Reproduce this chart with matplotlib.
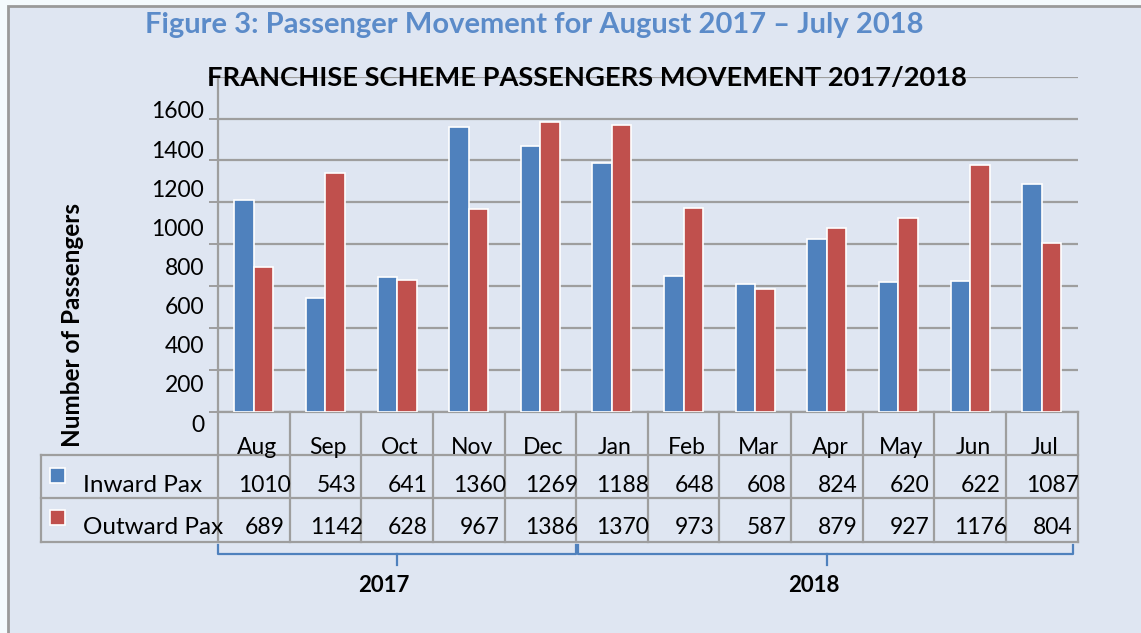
import matplotlib
matplotlib.use("Agg")
import matplotlib.pyplot as plt
from matplotlib.patches import Rectangle
from matplotlib.transforms import blended_transform_factory, offset_copy

plt.rcParams['font.family'] = ['Lato', 'DejaVu Sans']

# ---------------- data ----------------
months = ['Aug', 'Sep', 'Oct', 'Nov', 'Dec', 'Jan', 'Feb', 'Mar', 'Apr', 'May', 'Jun', 'Jul']
inward = [1010, 543, 641, 1360, 1269, 1188, 648, 608, 824, 620, 622, 1087]
outward = [689, 1142, 628, 967, 1386, 1370, 973, 587, 879, 927, 1176, 804]
series_names = ['Inward Pax', 'Outward Pax']
years = ['2017', '2018']
year_first = [0, 5]
year_last = [4, 11]
y_ticks = [0, 200, 400, 600, 800, 1000, 1200, 1400, 1600]

fig_title = 'Figure 3: Passenger Movement for August 2017 \u2013 July 2018'
chart_title = 'FRANCHISE SCHEME PASSENGERS MOVEMENT 2017/2018'
y_title = 'Number of Passengers'

# ---------------- styling ----------------
BLUE = '#4F81BD'
RED = '#C0504D'
BG = '#DFE6F2'
GRID = '#9E9E9E'
TITLE_BLUE = '#5B8BC9'
FS = 16.5

W, H = 1141, 633
fig = plt.figure(figsize=(W / 100, H / 100), dpi=100)
fig.patch.set_facecolor('#F4FAFD')

def fx(px):
    return px / W

def fy(py):
    return 1 - py / H

# page frame
fig.add_artist(Rectangle((fx(8), fy(700)), fx(1200), fy(6) - fy(700),
                         transform=fig.transFigure, facecolor=BG,
                         edgecolor='#9a9a9a', linewidth=2, zorder=0))

# main plot area
X0, X1 = 218, 1077.5
Y0, Y1 = 411.7, 76.7
ax = fig.add_axes([fx(X0), fy(Y0), fx(X1) - fx(X0), fy(Y1) - fy(Y0)])
ax.set_facecolor('none')
n = len(months)
xs = list(range(n))
bw = 0.272
ax.bar([x - bw / 2 for x in xs], inward, width=bw, color=BLUE,
       edgecolor='white', linewidth=1.2, zorder=3)
ax.bar([x + bw / 2 for x in xs], outward, width=bw, color=RED,
       edgecolor='white', linewidth=1.2, zorder=3)
ax.set_xlim(-0.5, n - 0.5)
ax.set_ylim(0, 1600)
ax.set_yticks(y_ticks)
ax.yaxis.grid(True, color=GRID, linewidth=1.6)
ax.set_axisbelow(True)
ax.tick_params(axis='y', length=6.5, width=1.4, color=GRID, labelleft=False)
ax.tick_params(axis='x', length=0, labelbottom=False)
for s in ['top', 'right']:
    ax.spines[s].set_visible(False)
for s in ['left', 'bottom']:
    ax.spines[s].set_color(GRID)
    ax.spines[s].set_linewidth(1.6)

# value-axis labels (placed as in the reference)
LY0, LY1 = 423, 110
lab = fig.add_axes([fx(X0), fy(LY0), fx(X1) - fx(X0), fy(LY1) - fy(LY0)])
lab.set_facecolor('none')
lab.set_ylim(0, 1600)
lab.set_yticks(y_ticks)
lab.set_yticklabels([str(t) for t in y_ticks])
lab.tick_params(axis='y', length=0, pad=10, labelsize=FS)
lab.set_xticks([])
for s in lab.spines.values():
    s.set_visible(False)

# data table
CW = (X1 - X0) / n
def dx(px):
    return -0.5 + (px - X0) / CW

def ay(py):
    return (Y0 - py) / (Y0 - Y1)

tr = blended_transform_factory(ax.transData, ax.transAxes)
row_lines = [455, 498.3, 542.3]
TL = 41
for yl in row_lines:
    ax.plot([dx(TL), n - 0.5], [ay(yl), ay(yl)], transform=tr, color=GRID,
            linewidth=1.6, clip_on=False, zorder=2)
for k in range(n + 1):
    ax.plot([k - 0.5, k - 0.5], [ay(Y0), ay(542.3)], transform=tr, color=GRID,
            linewidth=1.6, clip_on=False, zorder=2)
ax.plot([dx(TL), dx(TL)], [ay(455), ay(542.3)], transform=tr, color=GRID,
        linewidth=1.6, clip_on=False, zorder=2)

tr_m = offset_copy(tr, fig=fig, x=3, y=0, units='dots')
tr_v = offset_copy(tr, fig=fig, x=11, y=0, units='dots')
for i, m in enumerate(months):
    ax.text(i, ay(448), m, transform=tr_m, ha='center', va='center', fontsize=FS)
    ax.text(i, ay(486), str(inward[i]), transform=tr_v, ha='center', va='center', fontsize=FS)
    ax.text(i, ay(528), str(outward[i]), transform=tr_v, ha='center', va='center', fontsize=FS)

# legend keys inside the table
for name, col, yc in [(series_names[0], BLUE, 485), (series_names[1], RED, 527)]:
    fig.add_artist(Rectangle((fx(50), fy(yc - 2)), fx(15), fy(0) - fy(15),
                             transform=fig.transFigure, facecolor=col,
                             edgecolor='white', linewidth=1.2, zorder=4))
    fig.text(fx(83), fy(yc), name, ha='left', va='center', fontsize=17.5)

# year brackets
for yr, a, b in zip(years, year_first, year_last):
    left = a - 0.5 + (0.02 if a > 0 else 0)
    right = b + 0.5 - (0.06 if b == n - 1 else 0)
    mid = (a + b) / 2
    ax.plot([left, left, right, right], [ay(545), ay(554), ay(554), ay(545)],
            transform=tr, color=BLUE, linewidth=1.6, clip_on=False)
    ax.plot([mid, mid], [ay(554), ay(565)], transform=tr, color=BLUE,
            linewidth=1.6, clip_on=False)
    tr_y = offset_copy(tr, fig=fig, x=-13, y=0, units='dots')
    ax.text(mid, ay(586), yr, transform=tr_y, ha='center', va='center',
            fontsize=16, fontweight='bold')

# titles
fig.text(fx(534), fy(25), fig_title, ha='center', va='center', fontsize=21,
         fontweight='bold', color=TITLE_BLUE)
fig.text(fx(587), fy(78), chart_title, ha='center', va='center', fontsize=19.6,
         fontweight='bold', color='black', zorder=5)
fig.text(fx(73), fy(325), y_title, ha='center', va='center', rotation=90,
         fontsize=17.5, fontweight='bold')

fig.savefig('out.png', dpi=100, facecolor=fig.get_facecolor())
